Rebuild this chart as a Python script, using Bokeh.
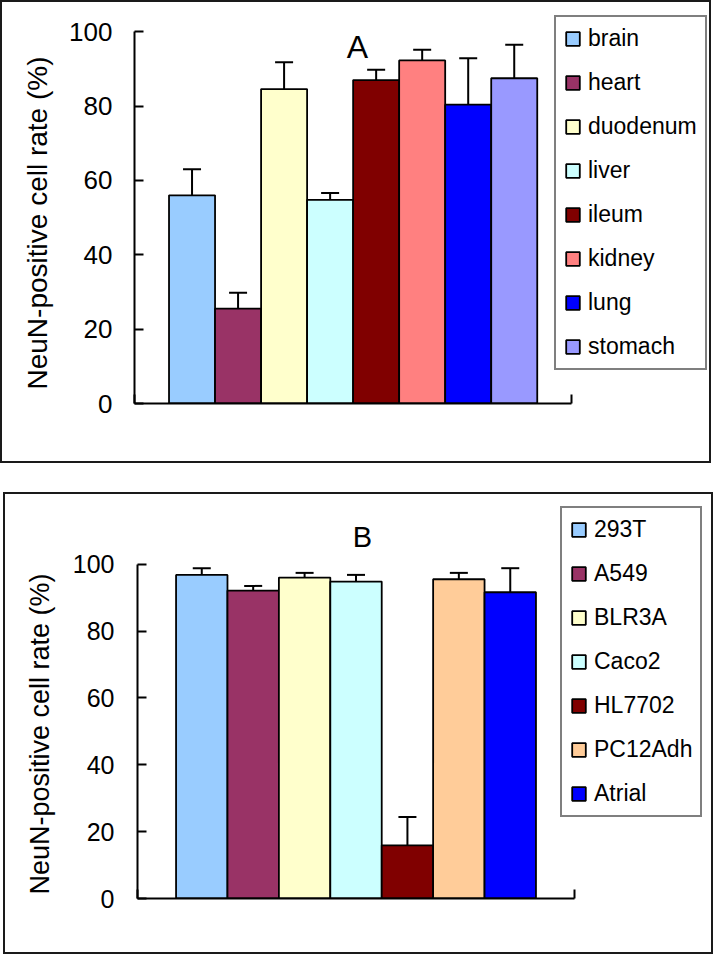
import numpy as np
from bokeh.plotting import figure
from bokeh.layouts import column
from bokeh.models import (ColumnDataSource, Range1d, FixedTicker, Whisker, TeeHead, Label, Title)
from bokeh.embed import file_html
from bokeh.resources import INLINE

# ---------------- data ----------------
tissues = ["brain", "heart", "duodenum", "liver", "ileum", "kidney", "lung", "stomach"]
tissue_rate = [56.0, 25.5, 84.6, 54.8, 87.0, 92.3, 80.4, 87.5]
tissue_err = [7.0, 4.3, 7.2, 1.8, 2.8, 2.9, 12.5, 9.0]
tissue_colors = ["#99CCFF", "#993366", "#FFFFCC", "#CCFFFF", "#800000", "#FF8080", "#0000FF", "#9999FF"]

cells = ["293T", "A549", "BLR3A", "Caco2", "HL7702", "PC12Adh", "Atrial"]
cell_rate = [96.8, 92.1, 96.0, 94.8, 15.9, 95.5, 91.6]
cell_err = [2.0, 1.4, 1.4, 2.0, 8.5, 1.9, 7.2]
cell_colors = ["#99CCFF", "#993366", "#FFFFCC", "#CCFFFF", "#800000", "#FFCC99", "#0000FF"]

y_ticks = [0, 20, 40, 60, 80, 100]
y_label = "NeuN-positive cell rate (%)"

FONT = "Liberation Sans"


def panel(names, rates, errs, colors, title, cfg):
    n = len(names)
    src = ColumnDataSource(dict(
        name=names, x=np.arange(n) + 0.5, rate=rates,
        upper=np.array(rates) + np.array(errs), color=colors))
    # frame covers the canvas right/top so that the legend is not clipped;
    # axes are limited with bounds to the original axis extent
    frame_w = cfg["w"] - cfg["ml"]
    frame_h = cfg["h"] - cfg["mb"]
    x_units = n + 1.5
    x_end = -0.75 + frame_w * x_units / cfg["axis_w"]
    y_end = 100.0 * frame_h / cfg["axis_h"]
    p = figure(width=cfg["w"], height=cfg["h"], output_backend="svg", toolbar_location=None,
               x_range=Range1d(-0.75, x_end), y_range=Range1d(0, y_end),
               min_border_left=cfg["ml"], min_border_right=0,
               min_border_top=0, min_border_bottom=cfg["mb"],
               background_fill_color="white", border_fill_color="white")
    p.outline_line_color = None
    p.grid.visible = False

    p.vbar(x="x", top="rate", width=1.0, source=src, fill_color="color",
           line_color="black", line_width=1.8, legend_field="name")
    wh = Whisker(base="x", upper="upper", lower="rate", source=src,
                 line_color="black", line_width=2, lower_head=None,
                 upper_head=TeeHead(size=18, line_color="black", line_width=2))
    p.add_layout(wh)

    # y axis
    ya = p.yaxis[0]
    ya.ticker = FixedTicker(ticks=y_ticks)
    ya.bounds = (0, 100)
    ya.minor_tick_line_color = None
    ya.major_tick_in = 9
    ya.major_tick_out = 0
    ya.axis_line_width = 2
    ya.major_tick_line_width = 2
    ya.axis_line_color = "black"
    ya.major_tick_line_color = "black"
    ya.major_label_text_font = FONT
    ya.major_label_text_font_size = cfg["tick_fs"]
    ya.major_label_text_color = "black"
    ya.major_label_standoff = cfg["tick_so"]

    # y axis title, anchored at the bottom of the axis
    p.add_layout(Title(text=y_label, align="left", offset=cfg["lab_off"],
                       standoff=cfg["lab_so"], text_font=FONT,
                       text_font_size=cfg["lab_fs"], text_font_style="normal",
                       text_color="black"), "left")

    # x axis (single category, boundary ticks only, no labels)
    xa = p.xaxis[0]
    xa.ticker = FixedTicker(ticks=[-0.75, n + 0.75])
    xa.bounds = (-0.75, n + 0.75)
    xa.minor_tick_line_color = None
    xa.major_tick_in = 9
    xa.major_tick_out = 0
    xa.axis_line_width = 2
    xa.major_tick_line_width = 2
    xa.axis_line_color = "black"
    xa.major_tick_line_color = "black"
    xa.major_label_text_color = None

    lg = p.legend[0]
    lg.location = cfg["leg_loc"]
    lg.border_line_color = "black"
    lg.border_line_width = 2
    lg.background_fill_color = "white"
    lg.background_fill_alpha = 1.0
    lg.label_text_font = FONT
    lg.label_text_font_size = "23px"
    lg.label_text_color = "black"
    lg.glyph_width = 17
    lg.glyph_height = 17
    lg.label_height = 26
    lg.label_standoff = 7
    lg.padding = 8
    lg.spacing = 17
    lg.margin = 0

    p.add_layout(Label(x=cfg["tx"], y=cfg["ty"], x_units="screen", y_units="screen",
                       text=title, text_font=FONT, text_font_size=cfg["t_fs"],
                       text_align="center", text_baseline="middle", text_color="black"))
    p.styles = {"border": "2px solid #1a1a1a", "box-sizing": "content-box"}
    return p


pA = panel(tissues, tissue_rate, tissue_err, tissue_colors, "A",
           dict(w=707, h=459, ml=131, mb=62, axis_w=435, axis_h=368,
                tick_fs="26px", tick_so=22, lab_fs="28px", lab_so=27, lab_off=14,
                leg_loc=(420, 33), tx=223, ty=357, t_fs="32px"))
pB = panel(cells, cell_rate, cell_err, cell_colors, "B",
           dict(w=706, h=458, ml=132, mb=58, axis_w=434, axis_h=331,
                tick_fs="25px", tick_so=23, lab_fs="27px", lab_so=29, lab_off=4,
                leg_loc=(423, 81), tx=225, ty=362, t_fs="29px"))
pB.margin = (29, 0, 0, 3)

layout = column(pA, pB)

open("out.html", "w").write(file_html(layout, INLINE))
